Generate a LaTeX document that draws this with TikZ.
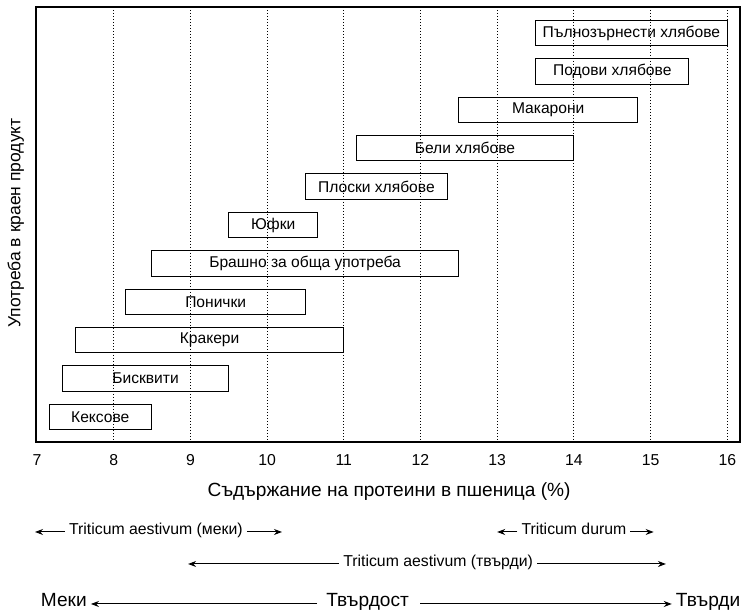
\documentclass[tikz,border=0pt]{standalone}
\usepackage{fontspec}
\setmainfont{Liberation Sans}
\usetikzlibrary{arrows.meta, positioning}
% one product bar: name, from %, to %, row y, text
\newcommand{\prodbar}[5]{%
  \node[prod, minimum width={(#3-#2)*76.7pt}] (#1) at ({(#2+#3)/2},#4) {#5};}

\begin{document}
\begin{tikzpicture}[x=76.7pt, y=-1pt,
    prod/.style={rectangle, draw=black, line width=1pt, minimum height=25.5pt,
                 inner sep=0pt, font=\fontsize{15.6}{18}\selectfont},
    gridline/.style={dotted, line width=1pt},
    arr/.style={-{Stealth[length=8pt, width=6pt]}, line width=1pt},
    lbl/.style={font=\fontsize{15.8}{18}\selectfont, inner sep=4pt,
                text height=0.75em, text depth=0.25em},
    big/.style={font=\fontsize{19.1}{22}\selectfont, inner sep=4pt,
                text height=0.75em, text depth=0.25em}
]
\useasboundingbox (6.5176,0) rectangle (16.179,615);

% plot frame and grid
\draw[line width=1.5pt] (6.987,7) rectangle (16.166,442);
\foreach \x in {8,...,16}
  \draw[gridline] (\x,7) -- (\x,442);
\foreach \x in {7,...,16}
  \node[lbl] (t\x) at (\x,463) {\x};

% products
\prodbar{whole}{13.5}{16.0}{33}{Пълнозърнести хлябове}
\prodbar{hearth}{13.5}{15.5}{71.4}{Подови хлябове}
\prodbar{pasta}{12.5}{14.83}{109.8}{Макарони}
\prodbar{white}{11.16}{14.0}{148.2}{Бели хлябове}
\prodbar{flat}{10.5}{12.35}{186.6}{Плоски хлябове}
\prodbar{noodle}{9.5}{10.66}{225}{Юфки}
\prodbar{flour}{8.49}{12.5}{263.4}{Брашно за обща употреба}
\prodbar{donut}{8.16}{10.5}{301.8}{Понички}
\prodbar{cracker}{7.5}{11.0}{340.2}{Кракери}
\prodbar{biscuit}{7.33}{9.5}{378.6}{Бисквити}
\prodbar{cake}{7.16}{8.49}{417}{Кексове}

% axis titles
\node[big] (xlabel) at (11.59,494) {Съдържание на протеини в пшеница (\%)};
\node[big, rotate=90, font=\fontsize{17.5}{21}\selectfont] (ylabel) at (6.752,223) {Употреба в краен продукт};

% wheat classes
\node[lbl] (soft) at (8.55,532) {Triticum aestivum (меки)};
\coordinate (softL) at (6.974,532);
\coordinate (softR) at (10.194,532);
\draw[arr] (soft.west) -- (softL);
\draw[arr] (soft.east) -- (softR);

\node[lbl] (durum) at (14.0,532) {Triticum durum};
\coordinate (durumL) at (13.0,532);
\coordinate (durumR) at (15.04,532);
\draw[arr] (durum.west) -- (durumL);
\draw[arr] (durum.east) -- (durumR);

\node[lbl] (hard) at (12.23,564) {Triticum aestivum (твърди)};
\coordinate (hardL) at (8.97,564);
\coordinate (hardR) at (15.2,564);
\draw[arr] (hard.west) -- (hardL);
\draw[arr] (hard.east) -- (hardR);

% hardness scale
\node[big] (meki) at (7.35,604) {Меки};
\node[big] (tvardost) at (11.31,604) {Твърдост};
\node[big] (tvardi) at (15.75,604) {Твърди};
\draw[arr, shorten <=5pt] (tvardost.west) -- (meki.east);
\draw[arr, shorten <=7pt] (tvardost.east) -- (tvardi.west);
\end{tikzpicture}
\end{document}
